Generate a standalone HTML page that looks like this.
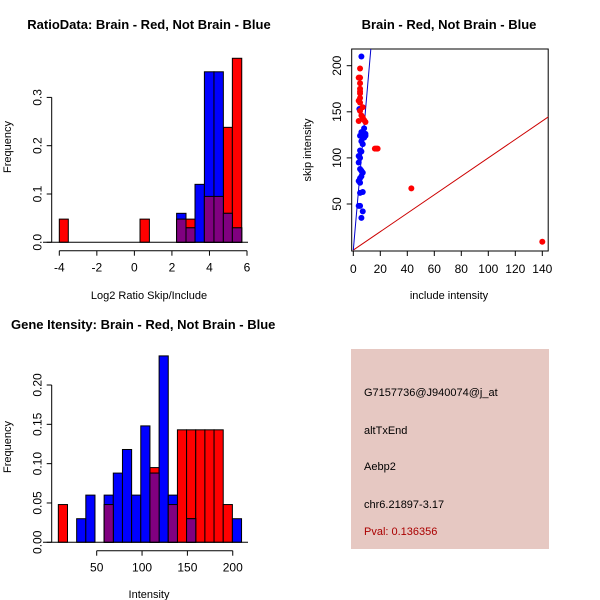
<!DOCTYPE html>
<html><head><meta charset="utf-8"><style>
body{margin:0;background:#fff}
svg{display:block;font-family:"Liberation Sans",sans-serif}
</style></head><body>
<svg id="s" width="600" height="600" viewBox="0 0 600 600">
<rect width="600" height="600" fill="#fff"/>
<rect x="351" y="349" width="198" height="200" fill="#e6c8c2"/>
<text x="364" y="396" font-size="11">G7157736@J940074@j_at</text>
<text x="364" y="434" font-size="11">altTxEnd</text>
<text x="364" y="470" font-size="11">Aebp2</text>
<text x="364" y="508" font-size="11">chr6.21897-3.17</text>
<text x="364" y="535" font-size="11" fill="#aa0000">Pval: 0.136356</text>
</svg>
<script>
// ---- Ratio histogram data (bin edges in log2 units) ----
const ratioRedBins=[[-4,-3.52],[0.3,0.8],[2.25,2.75],[2.75,3.23],[3.73,4.24],[4.24,4.74],[4.74,5.22],[5.22,5.72]];
const ratioRedVals=[0.048,0.048,0.048,0.048,0.095,0.095,0.238,0.381];
const ratioBlueBins=[[2.25,2.75],[2.75,3.23],[3.23,3.73],[3.73,4.24],[4.24,4.74],[4.74,5.22],[5.22,5.72]];
const ratioBlueVals=[0.06,0.03,0.12,0.353,0.353,0.06,0.03];
const ratioXTicks=[-4,-2,0,2,4,6];
const ratioYTicks=[0,0.1,0.2,0.3];
// ---- Scatter data ----
const blueInc=[6,4.5,8,9,6,5,7,6,7,5,6,4,5,4,5,6,7,6,5,4,5,7,5,5,4,7,6,8,9];
const blueSkip=[210,153,132,126,128,124,122,118,115,108,107,102,100,95,88,86,84,80,78,75,73,63,62,48,48,42,35,122,124];
const redInc=[4,5,5,5,5,5,5,4,5,5,7,5,6,7,4,9,8,16,17,18,43,140];
const redSkip=[187,187,197,181,175,172,170,162,165,160,155,151,146,144,140,139,141,110,110,110,67,9];
const scatXTicks=[0,20,40,60,80,100,120,140];
const scatYTicks=[50,100,150,200];
const blueSlope=[16.8];
// ---- Intensity histogram ----
const intRedVals=[0.048,0,0,0,0,0.048,0,0,0,0,0.095,0,0.048,0.143,0.143,0.143,0.143,0.143,0.048,0];
const intBlueVals=[0,0,0.03,0.06,0,0.06,0.088,0.118,0.06,0.148,0.088,0.237,0.06,0,0.03,0,0,0,0,0.03];
const intBinStart=[7.7];
const intBinWidth=[10.1];
const intXTicks=[50,100,150,200];
const intYTicks=[0,0.05,0.10,0.15,0.20];

const NS="http://www.w3.org/2000/svg", svg=document.getElementById('s');
function mk(t,a,p){const e=document.createElementNS(NS,t);for(const k in a)e.setAttribute(k,a[k]);(p||svg).appendChild(e);return e;}
function txt(x,y,s,a){const e=mk('text',Object.assign({x:x,y:y,'font-size':11,'text-anchor':'middle'},a||{}));e.textContent=s;return e;}
const RED='#ff0000',BLUE='#0000ff',PUR='#800080';

function hist(name,sx,sy,redBins,redVals,blueBins,blueVals){
  const g=mk('g',{});
  
  
  const draw=(b,v,c,n)=>{if(v<=0)return;const x0=sx(b[0]),x1=sx(b[1]),y=sy(v);
    const r=mk('rect',{x:x0,y:y,width:x1-x0,height:sy(0)-y,fill:c,stroke:'#000','stroke-width':1},g);
    
    };
  redBins.forEach((b,i)=>draw(b,redVals[i],RED,name+'-red-bar'));
  blueBins.forEach((b,i)=>draw(b,blueVals[i],BLUE,name+'-blue-bar'));
  redBins.forEach((b,i)=>{blueBins.forEach((bb,j)=>{if(Math.abs(bb[0]-b[0])<1e-6){const m=Math.min(redVals[i],blueVals[j]);if(m>0){
    const x0=sx(b[0]),x1=sx(b[1]),y=sy(m);
    const r=mk('rect',{x:x0,y:y,width:x1-x0,height:sy(0)-y,fill:PUR,stroke:'#000','stroke-width':1},g);
    
    }}});});
}
function yaxis(x,sy,ticks,fmt,name){
  mk('line',{x1:x,x2:x,y1:sy(ticks[0]),y2:sy(ticks[ticks.length-1]),stroke:'#000'});
  ticks.forEach(t=>{mk('line',{x1:x-5,x2:x,y1:sy(t),y2:sy(t),stroke:'#000'});
    const e=txt(x-10,sy(t),fmt(t),{'font-size':12,transform:`rotate(-90 ${x-10} ${sy(t)})`});
    
    });
}
function xaxis(y,sx,ticks,name){
  mk('line',{x1:sx(ticks[0]),x2:sx(ticks[ticks.length-1]),y1:y,y2:y,stroke:'#000'});
  ticks.forEach(t=>{mk('line',{x1:sx(t),x2:sx(t),y1:y,y2:y+5,stroke:'#000'});
    const e=txt(sx(t),y+21,String(t),{'font-size':12});
    
    });
}

// Panel 1
{const sx=v=>59.3+(v+4)*18.77, sy=v=>242.3-v*483;
 hist('ratio',sx,sy,ratioRedBins,ratioRedVals,ratioBlueBins,ratioBlueVals);
 mk('line',{x1:43,x2:248,y1:242.3,y2:242.3,stroke:'#000'});
 yaxis(51.7,sy,ratioYTicks,t=>t.toFixed(1),'ratio-y');
 xaxis(250.7,sx,ratioXTicks,'ratio-x');
 let e=txt(149,29,'RatioData: Brain - Red, Not Brain - Blue',{'font-weight':'bold','font-size':13});
 
 e=txt(149,299,'Log2 Ratio Skip/Include');
 e=txt(11,147,'Frequency',{transform:'rotate(-90 11 147)'});
}
// Panel 2
{const sx=v=>353.3+v*1.35, sy=v=>250.1-v*0.922;
 mk('rect',{x:351.7,y:49,width:196.5,height:202,fill:'none',stroke:'#000'});
 const cp=mk('clipPath',{id:'cp'});mk('rect',{x:351.7,y:49,width:196.5,height:202},cp);
 const lg=mk('g',{'clip-path':'url(#cp)'});
 let l=mk('line',{x1:sx(0),y1:sy(0),x2:sx(160),y2:sy(160),stroke:'#cc0000'},lg);
 
 l=mk('line',{x1:sx(0),y1:sy(0),x2:sx(15),y2:sy(15*blueSlope[0]),stroke:'#0000cc'},lg);
 
 blueInc.forEach((v,i)=>{const c=mk('circle',{cx:sx(v),cy:sy(blueSkip[i]),r:3,fill:BLUE});
   });
 redInc.forEach((v,i)=>{const c=mk('circle',{cx:sx(v),cy:sy(redSkip[i]),r:3,fill:RED});
   });
 scatXTicks.forEach(t=>{mk('line',{x1:sx(t),x2:sx(t),y1:251,y2:256,stroke:'#000'});
   const e=txt(sx(t),273,String(t),{'font-size':12});});
 scatYTicks.forEach(t=>{mk('line',{x1:346.7,x2:351.7,y1:sy(t),y2:sy(t),stroke:'#000'});
   const e=txt(341,sy(t),String(t),{'font-size':12,transform:`rotate(-90 341 ${sy(t)})`});});
 let e=txt(449,29,'Brain - Red, Not Brain - Blue',{'font-weight':'bold','font-size':13});
 
 e=txt(449,299,'include intensity');
 e=txt(311,150,'skip intensity',{transform:'rotate(-90 311 150)'});
}
// Panel 3
{const sx=v=>96.7+(v-50)*0.907, sy=v=>542.3-v*786.5;
 const bins=intRedVals.map((_,i)=>[intBinStart[0]+i*intBinWidth[0],intBinStart[0]+(i+1)*intBinWidth[0]]);
 hist('intensity',sx,sy,bins,intRedVals,bins,intBlueVals);
 mk('line',{x1:43,x2:248,y1:542.3,y2:542.3,stroke:'#000'});
 yaxis(51.7,sy,intYTicks,t=>t.toFixed(2),'intensity-y');
 xaxis(550.7,sx,intXTicks,'intensity-x');
 let e=txt(11,329,'Gene Itensity: Brain - Red, Not Brain - Blue',{'font-weight':'bold','font-size':13,'text-anchor':'start'});
 
 e=txt(149,598,'Intensity');
 e=txt(11,447,'Frequency',{transform:'rotate(-90 11 447)'});
}
</script>
</body></html>
